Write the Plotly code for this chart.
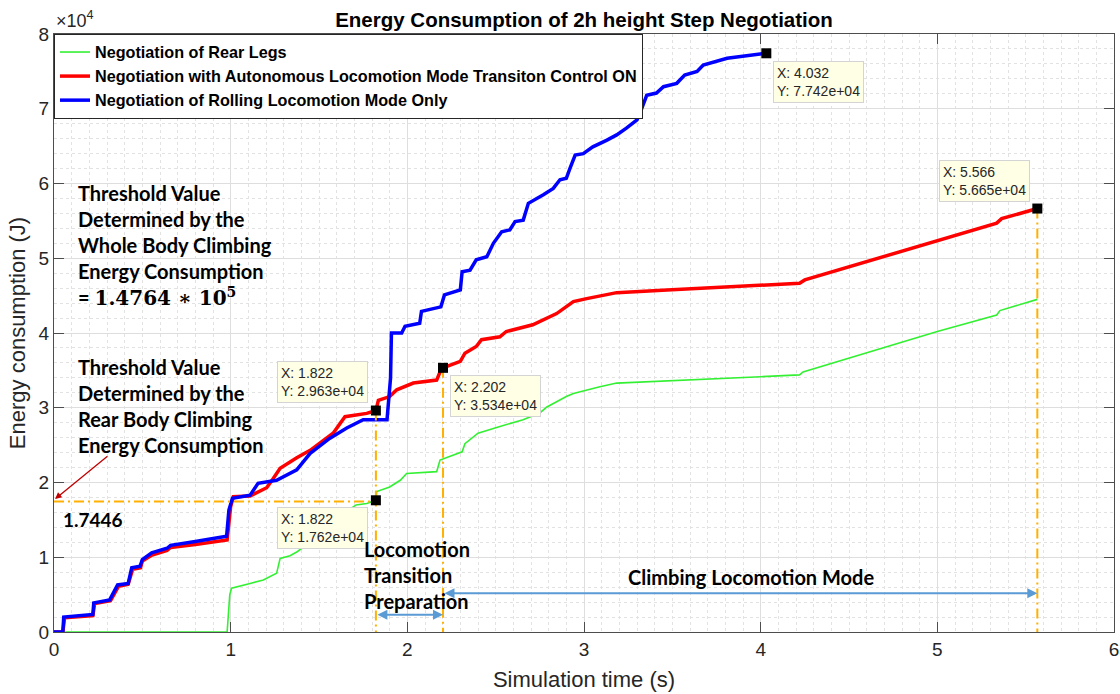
import plotly.graph_objects as go

# ---------------- data (energy in units of 10^4 J) ----------------
rear_x = [0, 0.98, 0.995, 1.005, 1.11, 1.185, 1.26, 1.28, 1.336, 1.374, 1.45, 1.53, 1.60, 1.66, 1.71,
          1.77, 1.822, 1.827, 1.90, 1.96, 1.996, 2.166, 2.185, 2.31, 2.326, 2.40, 2.524, 2.655,
          2.75, 2.79, 2.90, 2.94, 3.09, 3.185, 4.0, 4.22, 4.24, 5.0, 5.336, 5.354, 5.566]
rear_y = [0, 0, 0.50, 0.585, 0.65, 0.695, 0.785, 0.985, 1.02, 1.07, 1.20, 1.35, 1.50, 1.62, 1.70,
          1.72, 1.762, 1.88, 1.94, 2.03, 2.12, 2.145, 2.30, 2.41, 2.52, 2.66, 2.75, 2.84,
          2.93, 3.01, 3.15, 3.19, 3.28, 3.33, 3.415, 3.44, 3.48, 4.02, 4.24, 4.30, 4.45]

auto_x = [0, 0.05, 0.06, 0.22, 0.23, 0.32, 0.365, 0.42, 0.445, 0.49, 0.50, 0.555, 0.64, 0.66, 0.80,
          0.98, 1.0, 1.015, 1.11, 1.204, 1.24, 1.28, 1.374, 1.45, 1.58, 1.647, 1.77, 1.822, 1.836,
          1.90, 1.94, 2.034, 2.166, 2.194, 2.202, 2.30, 2.326, 2.39, 2.42, 2.524, 2.56, 2.71, 2.845,
          2.94, 3.015, 3.185, 3.47, 3.845, 4.22, 4.25, 5.0, 5.336, 5.364, 5.566]
auto_y = [0, 0, 0.19, 0.22, 0.38, 0.42, 0.61, 0.64, 0.84, 0.86, 0.95, 1.03, 1.09, 1.13, 1.17,
          1.23, 1.68, 1.81, 1.82, 1.93, 2.05, 2.19, 2.33, 2.43, 2.66, 2.88, 2.925, 2.963, 3.10,
          3.15, 3.24, 3.33, 3.37, 3.53, 3.534, 3.62, 3.73, 3.82, 3.91, 3.95, 4.02, 4.11, 4.26,
          4.42, 4.46, 4.54, 4.575, 4.62, 4.665, 4.71, 5.24, 5.47, 5.53, 5.665]

roll_x = [0, 0.05, 0.055, 0.22, 0.225, 0.315, 0.36, 0.42, 0.44, 0.487, 0.50, 0.553, 0.64, 0.66,
          0.80, 0.977, 0.99, 1.01, 1.11, 1.155, 1.26, 1.374, 1.45, 1.56, 1.657, 1.75, 1.885,
          1.895, 1.905, 1.91, 1.968, 1.987, 2.07, 2.08, 2.19, 2.21, 2.30, 2.31, 2.355, 2.39, 2.45,
          2.487, 2.534, 2.58, 2.61, 2.656, 2.685, 2.77, 2.826, 2.864, 2.90, 2.92, 2.95, 2.996,
          3.05, 3.13, 3.185, 3.24, 3.30, 3.326, 3.355, 3.41, 3.45, 3.525, 3.57, 3.64, 3.675,
          3.81, 3.90, 4.032]
roll_y = [0, 0, 0.2, 0.235, 0.39, 0.43, 0.63, 0.65, 0.86, 0.88, 0.97, 1.06, 1.12, 1.16,
          1.21, 1.28, 1.63, 1.79, 1.83, 1.99, 2.03, 2.17, 2.39, 2.59, 2.73, 2.84, 2.84,
          3.10, 3.40, 4.0, 4.0, 4.09, 4.13, 4.29, 4.35, 4.51, 4.575, 4.82, 4.84, 4.98, 5.02,
          5.20, 5.355, 5.38, 5.49, 5.51, 5.735, 5.85, 5.935, 6.05, 6.07, 6.20, 6.38, 6.40,
          6.49, 6.58, 6.65, 6.74, 6.85, 7.0, 7.18, 7.21, 7.295, 7.34, 7.45, 7.50, 7.585,
          7.675, 7.705, 7.742]

tip_x = [4.032, 5.566, 2.202, 1.822, 1.822]
tip_y = [7.742, 5.665, 3.534, 2.963, 1.762]
tip_text = ["X: 4.032<br>Y: 7.742e+04", "X: 5.566<br>Y: 5.665e+04", "X: 2.202<br>Y: 3.534e+04",
            "X: 1.822<br>Y: 2.963e+04", "X: 1.822<br>Y: 1.762e+04"]
threshold = 1.7446

x_ticks = [0, 1, 2, 3, 4, 5, 6]
y_ticks = [0, 1, 2, 3, 4, 5, 6, 7, 8]

AX = "Arial, Liberation Sans, sans-serif"
TXT = "#262626"
CAL = "Lato, Carlito, sans-serif"

W, H = 1120, 694

fig = go.Figure()
fig.add_trace(go.Scatter(x=rear_x, y=rear_y, mode="lines", name="Negotiation of Rear Legs",
                         line=dict(color="#33F033", width=1.6)))
fig.add_trace(go.Scatter(x=auto_x, y=auto_y, mode="lines",
                         name="Negotiation with Autonomous Locomotion Mode Transiton Control ON",
                         line=dict(color="#FF0000", width=3.5)))
fig.add_trace(go.Scatter(x=roll_x, y=roll_y, mode="lines", name="Negotiation of Rolling Locomotion Mode Only",
                         line=dict(color="#0000FF", width=3.5)))

# dash-dot guide lines
gx = [0, tip_x[4], None, tip_x[3], tip_x[3], None, tip_x[2], tip_x[2], None, tip_x[1], tip_x[1]]
gy = [threshold, threshold, None, tip_y[3], 0, None, tip_y[2], 0, None, tip_y[1], 0]
fig.add_trace(go.Scatter(x=gx, y=gy, mode="lines", showlegend=False, hoverinfo="skip",
                         line=dict(color="#FFB000", width=2, dash="10px,4px,2px,4px")))

# data-tip markers
fig.add_trace(go.Scatter(x=tip_x, y=tip_y, mode="markers", showlegend=False,
                         marker=dict(symbol="square", size=10, color="black")))

ann = []
tip_pos = [("left", "top", 7, -8), ("right", "bottom", -7, 7), ("left", "top", 7, -7),
           ("right", "bottom", -8, 8), ("right", "top", -8, -7)]
for tx, ty, tt, (xa, ya, xs, ys) in zip(tip_x, tip_y, tip_text, tip_pos):
    ann.append(dict(x=tx, y=ty, xref="x", yref="y", text=tt, showarrow=False, align="left",
                    xanchor=xa, yanchor=ya, xshift=xs, yshift=ys,
                    font=dict(family=AX, size=14, color=TXT),
                    bgcolor="#FFFFE6", bordercolor="#D4D4D4", borderwidth=1, borderpad=3))

# blue range arrows
ann.append(dict(x=tip_x[2], y=0.23, ax=tip_x[3], ay=0.23, xref="x", yref="y", axref="x", ayref="y",
                text="", showarrow=True, arrowside="end+start", arrowhead=2, startarrowhead=2,
                arrowsize=1, startarrowsize=1, arrowwidth=2, arrowcolor="#5B9BD5"))
ann.append(dict(x=tip_x[1], y=0.52, ax=tip_x[2], ay=0.52, xref="x", yref="y", axref="x", ayref="y",
                text="", showarrow=True, arrowside="end+start", arrowhead=2, startarrowhead=2,
                arrowsize=1, startarrowsize=1, arrowwidth=2, arrowcolor="#5B9BD5"))
# red pointer arrow
ann.append(dict(x=0.006, y=1.78, ax=0.311, ay=2.368, xref="x", yref="y", axref="x", ayref="y",
                text="", showarrow=True, arrowhead=2, arrowsize=1, arrowwidth=1.3, arrowcolor="#C00000"))

# text blocks
ann.append(dict(x=0.125, y=6.06, xref="x", yref="y", xanchor="left", yanchor="top", showarrow=False,
                align="left", font=dict(family=CAL, size=20, color="black", weight="bold"),
                text="Threshold Value<br>Determined by the<br>Whole Body Climbing<br>Energy Consumption<br>"
                     "= <span style='font-family:DejaVu Serif'>1.4764 ∗ 10<sup>5</sup></span>"))
ann.append(dict(x=0.125, y=3.73, xref="x", yref="y", xanchor="left", yanchor="top", showarrow=False,
                align="left", font=dict(family=CAL, size=20, color="black", weight="bold"),
                text="Threshold Value<br>Determined by the<br>Rear Body Climbing<br>Energy Consumption"))
ann.append(dict(x=0.04, y=1.69, xref="x", yref="y", xanchor="left", yanchor="top", showarrow=False,
                font=dict(family=CAL, size=19, color="black", weight="bold"), text="1.7446"))
ann.append(dict(x=1.743, y=1.30, xref="x", yref="y", xanchor="left", yanchor="top", showarrow=False,
                align="left", font=dict(family=CAL, size=20, color="black", weight="bold"),
                text="Locomotion<br>Transition<br>Preparation"))
ann.append(dict(x=3.24, y=0.92, xref="x", yref="y", xanchor="left", yanchor="top", showarrow=False,
                font=dict(family=CAL, size=20, color="black", weight="bold"),
                text="Climbing Locomotion Mode"))
# exponent label
ann.append(dict(x=0, y=1, xref="paper", yref="paper", xanchor="left", yanchor="bottom", yshift=1,
                showarrow=False, font=dict(family=AX, size=18, color=TXT), text="×10<sup>4</sup>"))

axis_common = dict(showline=True, linecolor="#4D4D4D", linewidth=1, mirror="ticks", ticks="inside",
                   ticklen=10, tickcolor="#4D4D4D", showgrid=True, gridcolor="#DEDEDE", gridwidth=1,
                   zeroline=False, automargin=False, ticklabeloverflow="allow",
                   tickfont=dict(family=AX, size=19, color=TXT))

fig.update_layout(
    width=W, height=H, autosize=False,
    margin=dict(l=54, r=6, t=34, b=62),
    paper_bgcolor="white", plot_bgcolor="white",
    title=dict(text="<b>Energy Consumption of 2h height Step Negotiation</b>", x=0.5, xref="paper",
               y=1 - 20 / H, yref="container", xanchor="center", yanchor="middle",
               font=dict(family=AX, size=20.5, color="black")),
    xaxis=dict(range=[0, 6], tickvals=x_ticks,
               title=dict(text="Simulation time (s)", font=dict(family=AX, size=22, color=TXT), standoff=12),
               minor=dict(dtick=0.1, showgrid=True, griddash="dot", gridcolor="#E2E2E2", ticks=""),
               **axis_common),
    yaxis=dict(range=[0, 8], tickvals=y_ticks,
               title=dict(text="Energy consumption (J)", font=dict(family=AX, size=22, color=TXT), standoff=6),
               minor=dict(dtick=0.2, showgrid=True, griddash="dot", gridcolor="#E2E2E2", ticks=""),
               **axis_common),
    legend=dict(x=0, y=1, xanchor="left", yanchor="top", bgcolor="white", bordercolor="#262626",
                borderwidth=1, font=dict(family=AX, size=16.2, color="black", weight="bold"),
                tracegroupgap=0),
    annotations=ann,
    showlegend=True,
)

fig.write_html("out.html", config={"displayModeBar": False},
               post_script="document.body.style.margin='0px';document.body.style.overflow='hidden';")
